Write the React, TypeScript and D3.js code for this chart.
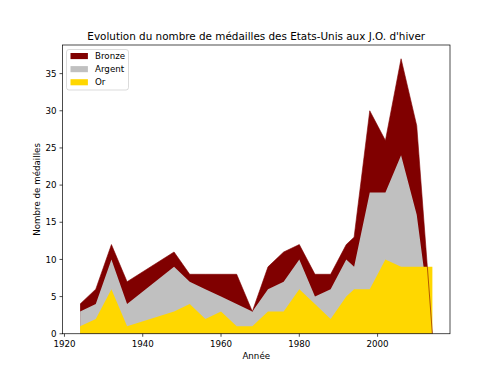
import React from "react";
import * as d3 from "d3";

// Years of the Winter Games
const years = [1924, 1928, 1932, 1936, 1948, 1952, 1956, 1960, 1964, 1968, 1972, 1976, 1980, 1984, 1988, 1992, 1994, 1998, 2002, 2006, 2010, 2014];
// Levels as drawn (cumulative): gold, gold+silver, gold+silver+bronze
const orLevel = [1, 2, 6, 1, 3, 4, 2, 3, 1, 1, 3, 3, 6, 4, 2, 5, 6, 6, 10, 9, 9, 9];
const argentLevel = [3, 4, 10, 4, 9, 7, 6, 5, 4, 3, 6, 7, 10, 5, 6, 10, 9, 19, 19, 24, 16, 0];
const bronzeLevel = [4, 6, 12, 7, 11, 8, 8, 8, 8, 3, 9, 11, 12, 8, 8, 12, 13, 30, 26, 37, 28, 0];

const xTicks = [1920, 1940, 1960, 1980, 2000];
const yTicks = [0, 5, 10, 15, 20, 25, 30, 35];

const title = "Evolution du nombre de médailles des Etats-Unis aux J.O. d'hiver";
const xLabel = "Année";
const yLabel = "Nombre de médailles";

const COLORS = { bronze: "#800000", argent: "#c0c0c0", or: "#ffd700" };
const legendItems = [
  { label: "Bronze", color: COLORS.bronze },
  { label: "Argent", color: COLORS.argent },
  { label: "Or", color: COLORS.or },
];

export default function App() {
  const W = 500, H = 375;
  const L = 62.5, R = 450, T = 45, B = 333.75;
  const font = "DejaVu Sans, sans-serif";
  const fs = 8.7;

  const x = d3.scaleLinear().domain([1919.5, 2018.5]).range([L, R]);
  const yMax = d3.max(bronzeLevel)! * 1.05;
  const y = d3.scaleLinear().domain([0, yMax]).range([B, T]);

  const area = d3
    .area<number>()
    .x((_, i) => x(years[i]))
    .y0(y(0))
    .y1((d) => y(d));
  const line = d3
    .line<number>()
    .x((_, i) => x(years[i]))
    .y((d) => y(d));

  return (
    <svg width={W} height={H} style={{ position: "absolute", left: 0, top: 0, background: "#fff" }} fontFamily={font}>
      <defs>
        <clipPath id="plotclip">
          <rect x={L} y={T} width={R - L} height={B - T} />
        </clipPath>
      </defs>
      <rect x={0} y={0} width={W} height={H} fill="#fff" />
      <g clipPath="url(#plotclip)">
        <path d={area(bronzeLevel)!} fill={COLORS.bronze} />
        <path d={area(argentLevel)!} fill={COLORS.argent} />
        <path d={area(orLevel)!} fill={COLORS.or} />
        <path d={line(bronzeLevel)!} fill="none" stroke={COLORS.bronze} strokeWidth={0.6} />
      </g>

      {/* spines */}
      <rect x={L} y={T} width={R - L} height={B - T} fill="none" stroke="#000" strokeWidth={0.7} />

      {/* x ticks */}
      {xTicks.map((t) => (
        <g key={"x" + t}>
          <line x1={x(t)} x2={x(t)} y1={B} y2={B + 3} stroke="#000" strokeWidth={0.7} />
          <text x={x(t)} y={346.8} fontSize={fs} textAnchor="middle" fill="#000">
            {t}
          </text>
        </g>
      ))}
      {/* y ticks */}
      {yTicks.map((t) => (
        <g key={"y" + t}>
          <line x1={L - 3} x2={L} y1={y(t)} y2={y(t)} stroke="#000" strokeWidth={0.7} />
          <text x={L - 6} y={y(t)} dy="0.36em" fontSize={fs} textAnchor="end" fill="#000">
            {t}
          </text>
        </g>
      ))}

      <text x={(L + R) / 2} y={359} fontSize={fs} textAnchor="middle" fill="#000">
        {xLabel}
      </text>
      <text
        transform={`translate(${40},${(T + B) / 2}) rotate(-90)`}
        fontSize={fs}
        textAnchor="middle"
        fill="#000"
      >
        {yLabel}
      </text>
      <text x={(L + R) / 2} y={39.5} fontSize={10.4} textAnchor="middle" fill="#000">
        {title}
      </text>

      {/* legend */}
      <g>
        <rect x={66.5} y={49.5} width={62} height={40.5} rx={2.5} fill="#fff" fillOpacity={0.8} stroke="#cccccc" strokeWidth={0.7} />
        {legendItems.map((it, i) => (
          <g key={it.label}>
            <rect x={70.5} y={53 + i * 13.1} width={17.4} height={6.1} fill={it.color} />
            <text x={95} y={56 + i * 13.1} dy="0.36em" fontSize={fs} fill="#000">
              {it.label}
            </text>
          </g>
        ))}
      </g>
    </svg>
  );
}
